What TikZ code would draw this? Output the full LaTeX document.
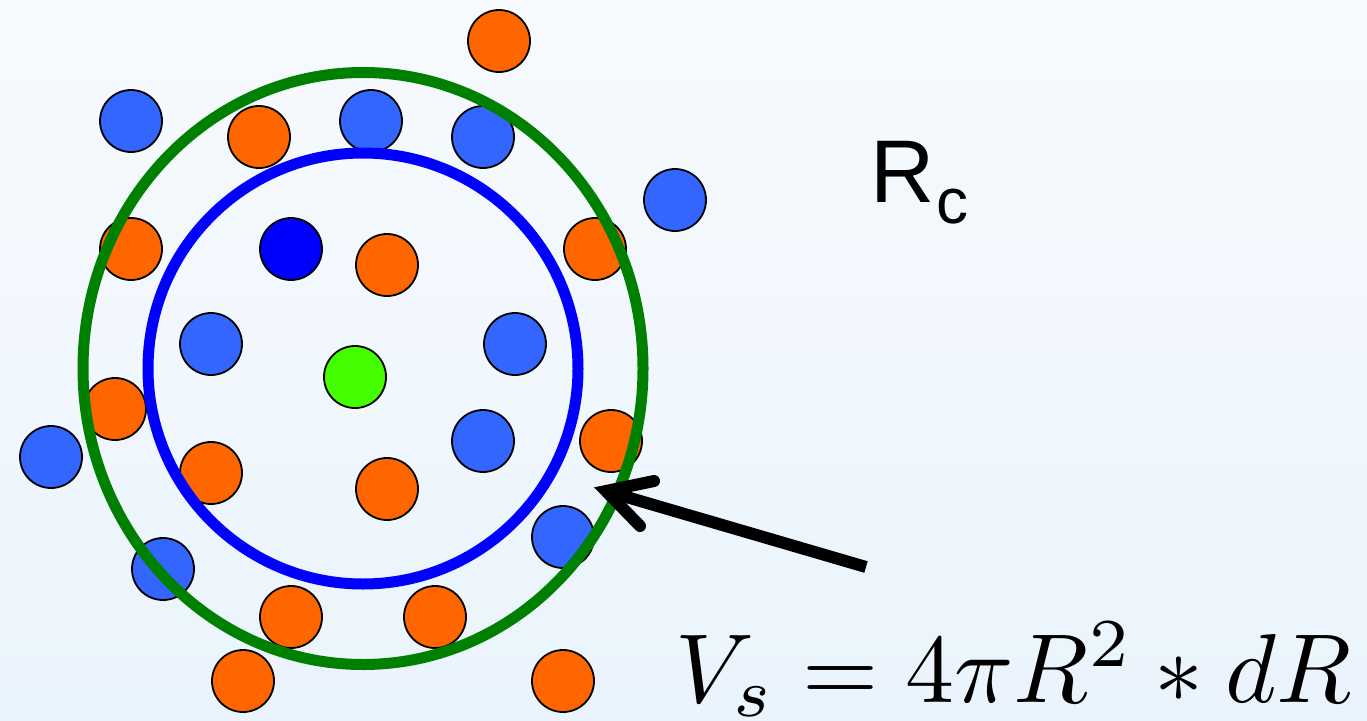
\RequirePackage{fix-cm}
\documentclass[tikz,border=0pt]{standalone}
\usepackage{fontspec}
\usetikzlibrary{calc}
\newfontfamily\labelfont{Liberation Sans}
\definecolor{bgtop}{RGB}{247,250,254}
\definecolor{bgbot}{RGB}{234,244,252}
\definecolor{ballorange}{RGB}{255,102,0}
\definecolor{ballblue}{RGB}{51,102,255}
\definecolor{balldark}{RGB}{0,0,255}
\definecolor{ballgreen}{RGB}{68,255,0}
\definecolor{ringgreen}{RGB}{0,128,0}
\definecolor{ringblue}{RGB}{0,0,255}
\tikzset{
  ball/.style={circle, draw=black, line width=1.8pt, minimum size=62pt, inner sep=0pt},
  orangeball/.style={ball, fill=ballorange},
  blueball/.style={ball, fill=ballblue},
  darkball/.style={ball, fill=balldark},
  greenball/.style={ball, fill=ballgreen},
  ring/.style={line width=11pt},
  arrowline/.style={line width=12pt, black}
}
\begin{document}
\begin{tikzpicture}[x=1pt,y=-1pt]
\path[top color=bgtop, bottom color=bgbot] (0,0) rectangle (1367,720);
\useasboundingbox (0,0) rectangle (1367,720);
% particles
\node[orangeball] (b1) at (499,41) {};
\node[blueball] (b2) at (131,121) {};
\node[orangeball] (b3) at (259,137) {};
\node[blueball] (b4) at (371,121) {};
\node[blueball] (b5) at (483,137) {};
\node[blueball] (b6) at (675,200) {};
\node[orangeball] (b7) at (131,249) {};
\node[darkball] (b8) at (291,249) {};
\node[orangeball] (b9) at (387,265) {};
\node[orangeball] (b10) at (595,249) {};
\node[blueball] (b11) at (211,344) {};
\node[blueball] (b12) at (515,344) {};
\node[greenball] (b13) at (355,377) {};
\node[orangeball] (b14) at (115,409) {};
\node[blueball] (b15) at (51,457) {};
\node[orangeball] (b16) at (211,473) {};
\node[blueball] (b17) at (483,441) {};
\node[orangeball] (b18) at (611,441) {};
\node[orangeball] (b19) at (387,489) {};
\node[blueball] (b20) at (563,537) {};
\node[blueball] (b21) at (163,569) {};
\node[orangeball] (b22) at (291,617) {};
\node[orangeball] (b23) at (435,617) {};
\node[orangeball] (b24) at (243,681) {};
\node[orangeball] (b25) at (563,681) {};
% shells
\draw[ring, draw=ringgreen] (363,368.5) ellipse [x radius=280, y radius=296];
\draw[ring, draw=ringblue] (363,368.5) ellipse [x radius=215, y radius=215.5];
% labels
\node[anchor=base west, inner sep=0pt] (rc) at (870,202)
  {\labelfont\fontsize{89}{89}\selectfont R\kern2pt\raisebox{-21pt}{\fontsize{64}{64}\selectfont c}};
\node[anchor=base west, inner sep=0pt, scale=9.8] (vs) at (674,702)
  {\fontsize{10}{12}\selectfont $V_s = 4\pi R^2 * dR$};
% arrow
\coordinate (tail) at (866,567);
\coordinate (tip) at (606,491);
\coordinate (arm1) at (654,481);
\coordinate (arm2) at (640,526);
\draw[arrowline, line cap=butt] (tail) -- ($(tip)!6pt!(tail)$);
\draw[arrowline, line cap=round, line join=miter] (arm1) -- (tip) -- (arm2);
\end{tikzpicture}
\end{document}
